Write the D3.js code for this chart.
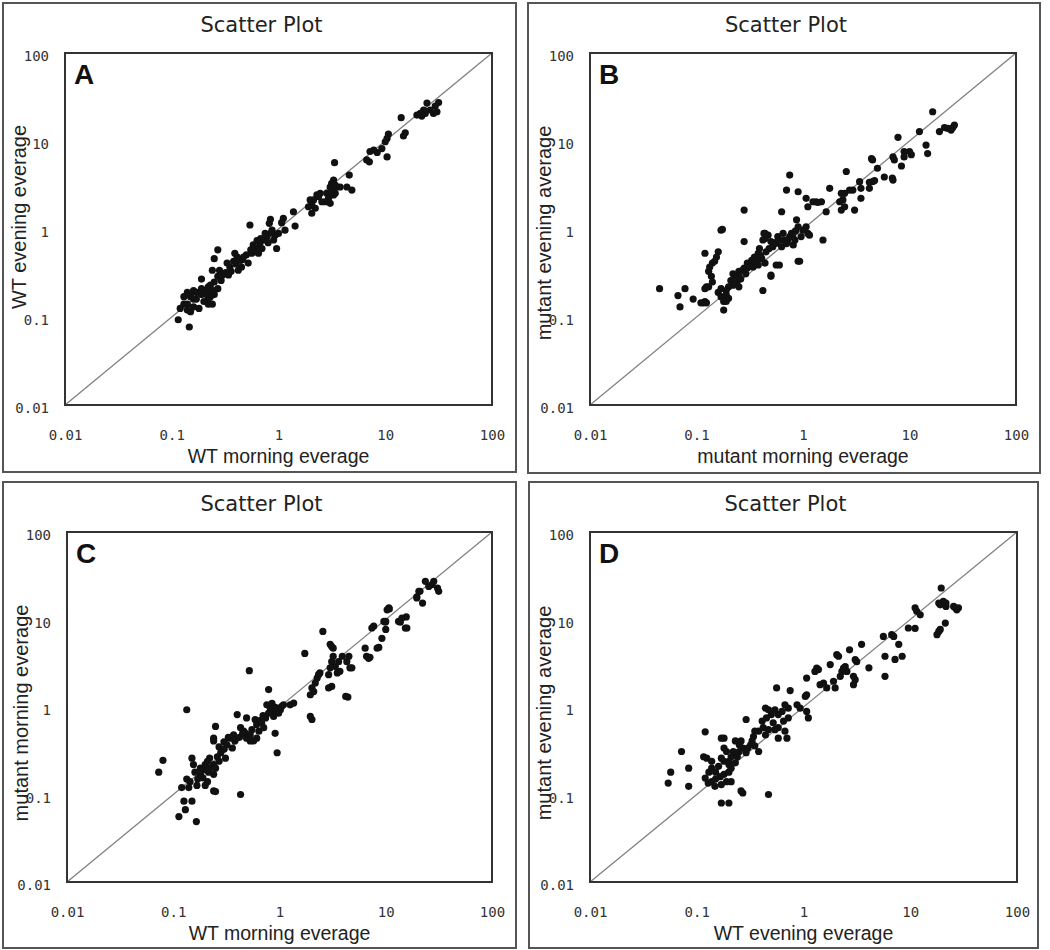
<!DOCTYPE html>
<html>
<head>
<meta charset="utf-8">
<script src="https://cdn.jsdelivr.net/npm/d3@7"></script>
<style>
  body { margin: 0; background: #fff; }
</style>
</head>
<body>
<svg id="chart" width="1050" height="950"></svg>
<script>
// values (log-log, 0.01 - 100)
var ticks = [0.01, 0.1, 1, 10, 100];
var tickLabels = ["0.01", "0.1", "1", "10", "100"];
var letters = ["A", "B", "C", "D"];
var titles = ["Scatter Plot", "Scatter Plot", "Scatter Plot", "Scatter Plot"];
var xLabels = ["WT morning everage", "mutant morning everage", "WT morning everage", "WT evening everage"];
var yLabels = ["WT evening everage", "mutant evening average", "mutant morning everage", "mutant evening average"];

var pointsA = [
  [31.6,27.3],[29.4,25],[30.5,21.5],[28.3,20.6],[26.4,22.5],[24.6,27],[22.9,22.5],[21.3,20.6],[22,19.2],[19.8,19.7],[23.7,20.6],
  [14.1,18.4],[15.4,12.4],[14.8,11.4],[10.7,12.0],[10.4,10.7],[10,9.8],[9.3,8.2],[10.4,6.6],[7.8,7.9],[8.4,7.4],[7.2,7.6],[6.7,6.1],[7.1,5.8],[3.35,5.67],[4.6,4.1],
  [3.28,3.6],[3.15,3.3],[3.4,3.16],[3.05,3.0],[3.2,2.77],[3.5,3.0],[3.4,2.54],[3.05,2.44],[2.84,2.54],[3.28,2.44],[2.94,2.23],[2.74,2.04],[3.05,1.96],[4.37,3.0],[4.87,2.77],[3.78,3.0],
  [2.46,2.54],[2.37,2.33],[2.55,2.04],[2.29,2.44],[2.13,2.14],[1.98,2.14],[2.05,1.87],[1.91,1.79],[2.21,1.72],[2.05,1.51],
  [1.38,1.57],[1.43,1.08],[1.11,1.32],[1.07,1.18],[1.15,0.97],
  [0.84,1.29],[0.82,1.16],[1.0,0.89],[0.96,0.6],[0.9,0.75],[0.93,0.85],[0.87,0.97],
  [0.78,0.82],[0.72,0.75],[0.67,0.69],[0.63,0.74],[0.7,0.6],[0.58,0.66],[0.63,0.6],[0.56,0.53],[0.75,0.89],[0.65,0.53],[0.54,1.11],
  [0.5,0.51],[0.47,0.48],[0.44,0.44],[0.41,0.48],[0.39,0.53],[0.38,0.43],[0.52,0.41],[0.45,0.37],[0.35,0.37],[0.33,0.41],[0.42,0.34],
  [0.28,0.34],[0.3,0.3],[0.27,0.29],[0.25,0.25],[0.29,0.26],[0.27,0.58],[0.25,0.46],[0.24,0.34],[0.27,0.21],
  [0.23,0.23],[0.22,0.22],[0.2,0.2],[0.19,0.21],[0.19,0.27],[0.17,0.19],[0.16,0.2],[0.15,0.18],[0.14,0.19],[0.23,0.17],[0.22,0.16],
  [0.2,0.15],[0.19,0.18],[0.17,0.16],[0.16,0.16],[0.15,0.17],[0.13,0.17],[0.24,0.14],[0.22,0.14],[0.18,0.125],[0.16,0.13],[0.14,0.14],
  [0.13,0.14],[0.12,0.125],[0.15,0.115],[0.14,0.12],[0.115,0.093],[0.146,0.077],
  [0.25,0.2],[0.22,0.19],[0.21,0.18],[0.25,0.18],
  [0.36,0.33],[0.4,0.4],[0.46,0.45],[0.55,0.58],[0.6,0.55],[0.68,0.78],[0.8,0.7],[0.85,0.9],[0.32,0.32],[0.34,0.3]
];

var pointsB = [
  [16.5,21.5],[19.1,12.8],[21.3,14.2],[22.9,13.9],[25.5,14.2],[26.4,15.2],[24.6,13.3],[12.4,12.8],[7.8,11.0],[14.3,9.0],[14.8,7.2],
  [8.9,7.6],[10,7.6],[8.9,6.6],[10.4,7.0],[7.0,6.6],[7.2,6.1],[8.4,5.2],[4.4,6.3],[4.5,6.1],[5.0,4.9],[5.8,3.9],[7.0,3.6],[6.9,3.8],
  [4.5,3.45],[4.7,3.55],[4.2,3.4],[4.2,2.9],[2.55,4.5],[3.4,3.45],[3.5,2.9],[2.94,2.77],[2.74,2.77],[2.46,2.54],[3.5,2.23],[3.05,1.64],
  [2.29,2.54],[2.37,2.14],[2.21,2.04],[2.29,1.64],[2.46,1.79],[1.78,2.9],[1.65,1.57],[1.33,2.04],[1.49,2.04],[1.38,2.0],[1.11,1.79],
  [1.24,2.04],[1.07,2.23],[0.9,2.65],[0.7,2.77],[0.75,4.1],[0.63,1.57],[1.54,0.75],
  [1.07,1.06],[1.11,0.89],[1.0,0.97],[0.9,1.06],[0.87,1.27],[0.96,0.82],[0.84,0.75],[0.78,0.89],[0.72,0.75],[0.81,0.66],[0.75,0.82],
  [0.67,0.75],[0.65,0.89],[0.58,0.82],[0.63,0.63],[0.56,0.69],[0.52,0.63],[0.5,0.72],[0.47,0.85],[0.44,0.89],[0.42,0.75],[1.15,0.85],
  [0.9,0.43],[0.56,0.39],[0.5,0.29],[0.42,0.2],[0.43,0.89],[0.44,0.78],[0.93,0.43],
  [0.39,0.6],[0.38,0.53],[0.35,0.48],[0.41,0.46],[0.44,0.41],[0.38,0.39],[0.33,0.44],[0.37,0.44],[0.34,0.37],[0.3,0.41],[0.28,0.36],
  [0.27,0.34],[0.29,0.31],[0.25,0.33],[0.25,0.29],[0.23,0.29],[0.24,0.25],[0.21,0.26],[0.22,0.23],[0.25,0.22],[0.2,0.22],[0.19,0.2],
  [0.17,0.21],[0.19,0.18],[0.17,0.17],[0.16,0.19],[0.18,0.15],[0.19,0.15],[0.19,0.16],[0.18,0.12],[0.2,0.163],[0.5,0.3],[0.6,0.39],
  [0.28,0.72],[0.28,1.64],[0.17,0.97],[0.175,0.99],
  [0.16,0.55],[0.154,0.48],[0.148,0.43],[0.141,0.41],[0.133,0.37],[0.13,0.33],[0.138,0.29],[0.141,0.25],[0.124,0.22],[0.12,0.53],
  [0.12,0.21],[0.13,0.22],[0.12,0.15],[0.11,0.145],[0.116,0.145],[0.124,0.145],[0.093,0.16],[0.078,0.21],[0.067,0.175],[0.07,0.13],[0.045,0.21],
  [0.22,0.31],[0.26,0.27],[0.3,0.36],[0.32,0.38],[0.36,0.41],[0.4,0.5],[0.45,0.55],[0.48,0.6],[0.55,0.7],[0.6,0.75],[0.7,0.68],[0.8,0.82],[0.85,0.95]
];

var pointsC = [
  [23.6,27.3],[28.3,27.3],[25.4,23.9],[27.2,25.0],[31.5,21.0],[30.7,22.9],[20.5,21.0],[19.6,18.2],[22.2,15.4],[10.3,12.9],[10.7,13.6],
  [9.6,9.5],[10,9.5],[13.2,9.5],[14.2,10.4],[15.3,8.0],[7.4,8.0],[10,7.7],[9.2,6.1],[8.3,4.7],[6.4,4.7],[6.6,3.8],[6.9,3.6],[4.5,3.8],
  [4.3,3.3],[4.6,2.8],[4.2,1.32],[4.4,1.3],[2.56,7.3],[3.0,5.2],[3.1,4.9],[3.2,4.7],
  [3.2,3.8],[3.1,3.3],[3.35,2.9],[3.0,2.8],[2.9,2.34],[3.5,2.45],[3.7,2.56],[3.6,3.3],[2.9,1.65],[2.33,2.34],[2.26,2.14],[2.17,1.88],
  [2.02,1.65],[1.95,1.38],[2.1,1.5],[2.4,2.45],[1.95,0.78],[2.02,0.72],[1.73,4.1],[1.36,1.11],[1.26,1.06],
  [1.05,1.02],[1.02,0.93],[1.09,1.06],[0.95,0.97],[0.98,0.85],[0.91,0.89],[0.88,0.78],[0.82,0.97],[0.79,0.85],[0.76,1.06],[0.79,1.58],
  [0.74,0.75],[0.68,0.66],[0.71,0.58],[0.64,0.53],[0.61,0.44],[0.57,0.41],[0.53,0.41],[0.49,0.44],[0.48,0.5],[0.53,0.48],[0.61,0.63],
  [0.59,0.72],[0.91,0.5],[0.95,0.3],[0.52,2.6],[0.4,0.82],[0.49,0.75],[0.43,0.58],[0.46,0.53],[0.43,0.1],
  [0.37,0.48],[0.34,0.44],[0.38,0.41],[0.32,0.37],[0.36,0.34],[0.3,0.33],[0.28,0.3],[0.31,0.26],[0.26,0.27],[0.27,0.24],[0.24,0.22],
  [0.25,0.2],[0.22,0.2],[0.215,0.18],[0.21,0.24],[0.2,0.22],[0.19,0.19],[0.18,0.17],[0.19,0.155],[0.17,0.15],[0.167,0.127],[0.2,0.127],
  [0.21,0.14],[0.24,0.17],[0.24,0.11],[0.25,0.108],[0.25,0.6],[0.24,0.44],[0.24,0.41],
  [0.134,0.93],[0.15,0.26],[0.155,0.22],[0.134,0.15],[0.144,0.14],[0.14,0.12],[0.12,0.12],[0.15,0.084],[0.126,0.084],[0.13,0.067],
  [0.113,0.056],[0.165,0.049],[0.073,0.18],[0.08,0.246],
  [10.8,13.2],[21,21],[19.6,17.6],[7.7,8.4],[9.9,9.3],[13.7,9.3],[15.6,10.7],[15.8,8.0],[7.1,3.7],[8.6,4.8],[3.9,3.8],[4.8,2.8],[3.1,1.72],
  [0.3,0.4],[0.33,0.45],[0.27,0.35],[0.22,0.26],[0.18,0.2],[0.16,0.18],[0.42,0.45],[0.45,0.5],[0.55,0.55],[0.65,0.7],[0.7,0.8],[0.85,1.1],[0.9,1.0]
];

var pointsD = [
  [19.5,22.9],[18.5,15.4],[20.4,16.1],[19.1,14.7],[21.6,14.1],[21.6,15.4],[26.4,13.6],[27.3,12.9],[28.3,13.6],[25.5,14.1],[11.1,13.6],
  [11.5,12.4],[12.4,11.3],[21.3,9.1],[18.5,7.3],[17.8,6.7],[19.1,7.7],[9.6,8.0],[11.1,7.9],[6.7,6.7],[7.0,6.4],[5.6,6.4],[7.8,5.2],
  [8.4,3.8],[7.2,3.5],[5.8,3.8],[5.8,2.24],[4.1,2.8],[3.5,5.2],[2.7,4.5],[2.05,3.96],[2.13,3.8],[3.05,3.47],[3.15,3.3],
  [2.46,2.9],[2.37,2.79],[2.55,2.55],[2.21,2.24],[2.29,2.55],[2.94,2.24],[2.94,1.8],[3.05,2.05],[1.78,3.05],[1.33,2.79],[1.38,2.68],
  [1.28,2.55],[1.43,1.8],[1.54,1.88],[1.65,1.65],[1.98,1.65],[1.91,1.97],[1.07,2.14],[1.07,1.38],[1.04,1.32],[0.87,1.06],[0.93,0.97],
  [1.07,0.89],[1.11,0.75],[0.75,1.54],[0.56,1.65],
  [0.72,0.97],[0.67,1.06],[0.63,0.89],[0.58,0.82],[0.72,0.75],[0.65,0.69],[0.54,0.93],[0.5,0.82],[0.47,0.93],[0.45,0.75],[0.44,0.97],
  [0.41,0.69],[0.52,0.66],[0.58,0.58],[0.7,0.44],[0.67,0.53],[0.54,0.55],[0.47,0.55],[0.42,0.58],[0.44,0.48],[0.38,0.53],[0.58,0.44],[0.29,0.72],
  [0.35,0.53],[0.34,0.46],[0.33,0.41],[0.32,0.37],[0.3,0.34],[0.35,0.36],[0.38,0.31],[0.29,0.3],[0.27,0.34],[0.26,0.41],[0.25,0.31],
  [0.25,0.37],[0.23,0.41],[0.24,0.27],[0.22,0.31],[0.21,0.27],[0.2,0.24],[0.18,0.24],[0.2,0.22],[0.18,0.34],[0.17,0.26],[0.16,0.21],
  [0.15,0.18],[0.166,0.16],[0.18,0.17],[0.2,0.18],[0.21,0.2],[0.23,0.23],[0.19,0.31],[0.18,0.44],[0.17,0.44],[0.138,0.24],[0.138,0.2],
  [0.15,0.15],[0.17,0.13],[0.19,0.14],[0.21,0.14],[0.27,0.104],[0.26,0.11],[0.17,0.08],[0.2,0.08],[0.47,0.1],[0.12,0.52],[0.124,0.26],
  [0.116,0.27],[0.13,0.18],[0.12,0.154],[0.138,0.14],[0.128,0.135],[0.148,0.124],[0.084,0.2],[0.084,0.124],[0.072,0.31],[0.057,0.18],[0.054,0.135]
];

var allPoints = [pointsA, pointsB, pointsC, pointsD];

// panel boxes (outer frame + plot area), pixels
var layout = [
  { box: [3, 3, 513, 469],   plot: [65, 53, 427, 352],  ylShift: -12 },
  { box: [528, 3, 512, 470], plot: [590, 53, 426, 352], ylShift: 4 },
  { box: [3, 482, 513, 466], plot: [67, 532, 425, 350], ylShift: 6 },
  { box: [529, 482, 509, 466], plot: [590, 532, 427, 350], ylShift: 6 }
];

var svg = d3.select("#chart");
svg.append("rect").attr("width", 1050).attr("height", 950).attr("fill", "#fff");

layout.forEach(function(L, i) {
  var g = svg.append("g");
  var bx = L.box, p = L.plot;

  g.append("rect")
    .attr("x", bx[0]).attr("y", bx[1]).attr("width", bx[2]).attr("height", bx[3])
    .attr("fill", "none").attr("stroke", "#555").attr("stroke-width", 2);

  g.append("text")
    .attr("x", bx[0] + bx[2] / 2 + 2).attr("y", bx[1] + 29)
    .attr("text-anchor", "middle")
    .attr("font-family", "DejaVu Sans, Verdana, sans-serif")
    .attr("font-size", 21).attr("fill", "#222")
    .text(titles[i]);

  var x = d3.scaleLog().domain([0.01, 100]).range([p[0], p[0] + p[2]]);
  var y = d3.scaleLog().domain([0.01, 100]).range([p[1] + p[3], p[1]]);

  // 1:1 line
  g.append("path")
    .datum([ticks[0], ticks[ticks.length - 1]])
    .attr("d", d3.line().x(function(d) { return x(d); }).y(function(d) { return y(d); }))
    .attr("stroke", "#808080").attr("stroke-width", 1.3).attr("fill", "none");

  g.append("g")
    .selectAll("circle")
    .data(allPoints[i])
    .enter().append("circle")
      .attr("cx", function(d) { return x(d[0]); })
      .attr("cy", function(d) { return y(d[1]); })
      .attr("r", 3.6)
      .attr("fill", "#111");

  g.append("rect")
    .attr("x", p[0]).attr("y", p[1]).attr("width", p[2]).attr("height", p[3])
    .attr("fill", "none").attr("stroke", "#333").attr("stroke-width", 2);

  var xAxis = g.append("g")
    .attr("transform", "translate(0," + (p[1] + p[3]) + ")")
    .call(d3.axisBottom(x).tickValues(ticks)
      .tickFormat(function(d, k) { return tickLabels[k]; })
      .tickSize(0).tickPadding(25));
  var yAxis = g.append("g")
    .attr("transform", "translate(" + p[0] + ",0)")
    .call(d3.axisLeft(y).tickValues(ticks)
      .tickFormat(function(d, k) { return tickLabels[k]; })
      .tickSize(0).tickPadding(16));
  [xAxis, yAxis].forEach(function(ax) {
    ax.select(".domain").remove();
    ax.attr("font-family", "DejaVu Sans Mono, monospace").attr("font-size", 14);
    ax.selectAll("text").attr("fill", "#333");
  });
  yAxis.selectAll("text").attr("dy", "0.55em");

  g.append("text")
    .attr("x", p[0] + 9).attr("y", p[1] + 31)
    .attr("font-family", "Liberation Sans, Arial, sans-serif")
    .attr("font-weight", "bold").attr("font-size", 28).attr("fill", "#111")
    .text(letters[i]);

  g.append("text")
    .attr("x", p[0] + p[2] / 2).attr("y", p[1] + p[3] + 58)
    .attr("text-anchor", "middle")
    .attr("font-family", "Liberation Sans, Arial, sans-serif")
    .attr("font-size", 19.5).attr("fill", "#222")
    .text(xLabels[i]);

  var cy = p[1] + p[3] / 2 + L.ylShift;
  g.append("text")
    .attr("transform", "translate(" + (p[0] - 39) + "," + cy + ") rotate(-90)")
    .attr("text-anchor", "middle")
    .attr("font-family", "Liberation Sans, Arial, sans-serif")
    .attr("font-size", 20).attr("fill", "#222")
    .text(yLabels[i]);
});
</script>
</body>
</html>
